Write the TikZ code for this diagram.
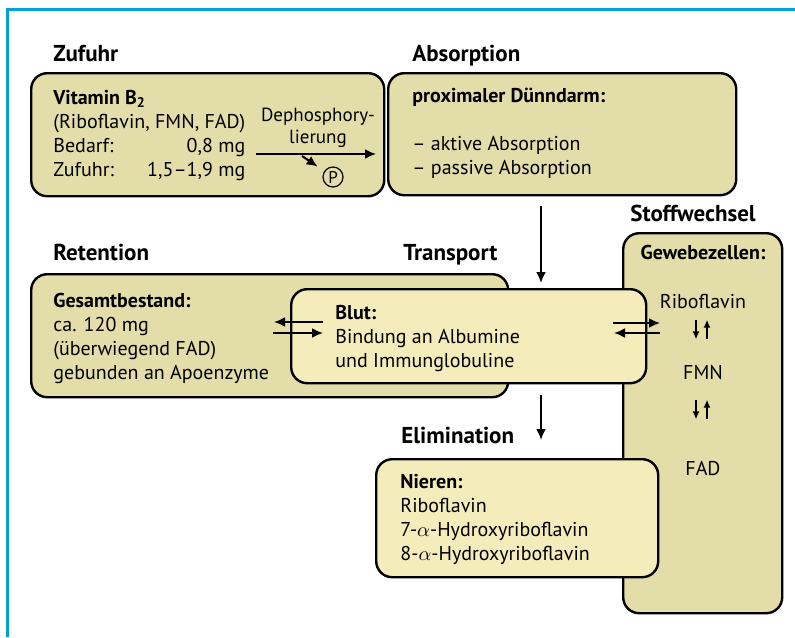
\documentclass[tikz,border=0pt]{standalone}
\usepackage{fontspec}
\setmainfont{PT Sans}
\usetikzlibrary{arrows.meta,positioning}
\definecolor{khaki}{RGB}{227,222,169}
\definecolor{cream}{RGB}{244,236,186}
\definecolor{framecol}{RGB}{0,160,220}
\tikzstyle{mybox} = [draw=black, line width=1.2pt, rectangle, rounded corners=8pt,
    inner sep=0pt, anchor=north west]
\tikzstyle{outerbox} = [mybox, fill=khaki]
\tikzstyle{innerbox} = [mybox, fill=cream]
\tikzstyle{heading} = [font=\bfseries\fontsize{11.5}{13}\selectfont, inner sep=0pt, anchor=base west]
\tikzstyle{boxtext} = [font=\fontsize{10}{12}\selectfont, inner sep=0pt, anchor=base west]
\tikzstyle{midtext} = [font=\fontsize{10}{12}\selectfont, inner sep=0pt, anchor=base]
\tikzstyle{flow} = [line width=1pt, -{Latex[length=5.5pt,width=5pt]}]
\tikzstyle{tinyflow} = [line width=0.8pt, -{Latex[length=4pt,width=3.5pt]}]

\begin{document}
\begin{tikzpicture}[x=0.5pt, y=-0.5pt]
\useasboundingbox (0,0) rectangle (795,637);
\draw[framecol, line width=1.5pt] (7,637) -- (7,9.5) -- (795,9.5);

% boxes, back to front
\node[outerbox, minimum width=176.5pt, minimum height=61.5pt] (zufuhr) at (30,72) {};
\node[outerbox, minimum width=174pt, minimum height=61pt] (absorb) at (387,72) {};
\node[outerbox, minimum width=79.5pt, minimum height=190pt] (stoff) at (622,232) {};
\node[outerbox, minimum width=238.5pt, minimum height=61.5pt] (retent) at (30,273) {};
\node[innerbox, minimum width=177.5pt, minimum height=47pt] (blut) at (290,288) {};
\node[innerbox, minimum width=141pt, minimum height=59pt] (nieren) at (375,458) {};

% headings
\node[heading] (t-zufuhr) at ([xshift=11.5pt, yshift=5.5pt]zufuhr.north west) {Zufuhr};
\node[heading] (t-absorb) at ([xshift=12.5pt, yshift=5.5pt]absorb.north west) {Absorption};
\node[heading] (t-stoff) at ([xshift=4pt, yshift=5.5pt]stoff.north west) {Stoffwechsel};
\node[heading] (t-retent) at ([xshift=11.5pt, yshift=6.5pt]retent.north west) {Retention};
\node[heading] (t-transp) at ([xshift=56.5pt, yshift=14pt]blut.north west) {Transport};
\node[heading] (t-elim) at ([xshift=13pt, yshift=7.5pt]nieren.north west) {Elimination};

% box contents
\node[boxtext] (vit) at (53,104) {\begin{tabular}[t]{@{}l@{}r@{}}
    \multicolumn{2}{@{}l@{}}{\textbf{Vitamin B\textsubscript{2}}}\\
    \multicolumn{2}{@{}l@{}}{(Riboflavin, FMN, FAD)}\\
    Bedarf: & 0,8 mg\\
    Zufuhr: & 1,5--1,9 mg
  \end{tabular}};
\node[midtext, font=\fontsize{9.5}{11}\selectfont] (dephos) at (318,121)
  {\begin{tabular}[t]{@{}c@{}}Dephosphory-\\lierung\end{tabular}};
\node[draw, circle, line width=0.6pt, minimum size=10pt, inner sep=0pt,
    font=\fontsize{8.5}{8.5}\selectfont] (phos) at (333,177) {P};
\node[boxtext] (prox) at (412,102) {\begin{tabular}[t]{@{}l@{}}
    \textbf{proximaler Dünndarm:}\\[12pt]
    -- aktive Absorption\\-- passive Absorption\end{tabular}};
\node[boxtext] (bestand) at (53,307) {\begin{tabular}[t]{@{}l@{}}
    \textbf{Gesamtbestand:}\\ca. 120 mg\\(überwiegend FAD)\\gebunden an Apoenzyme\end{tabular}};
\node[boxtext] (bind) at (335,319) {\begin{tabular}[t]{@{}l@{}}
    \textbf{Blut:}\\Bindung an Albumine\\und Immunglobuline\end{tabular}};
\node[boxtext] (niere) at (400,488) {\begin{tabular}[t]{@{}l@{}}
    \textbf{Nieren:}\\Riboflavin\\7-$\alpha$-Hydroxyriboflavin\\8-$\alpha$-Hydroxyriboflavin\end{tabular}};
\node[midtext, font=\bfseries\fontsize{10}{12}\selectfont] (gewebe) at (703,259) {Gewebezellen:};
\node[midtext] (ribo) at (703,308) {Riboflavin};
\node[midtext] (fmn) at (703,379) {FMN};
\node[midtext] (fad) at (703,475) {FAD};

% connectors
\coordinate (drop) at (541,0);
\coordinate (dp) at (256,154);
\coordinate (dq) at (302,156);
\draw[flow] (dp) -- ([xshift=-5.5pt]absorb.west |- dp);
\draw[flow, shorten >=4pt] (dq) -- (phos);
\draw[flow, shorten <=5pt, shorten >=2.5pt] (absorb.south -| drop) -- (blut.north -| drop);
\draw[flow, shorten <=5.5pt, shorten >=9pt] (blut.south -| drop) -- (nieren.north -| drop);

% exchange with Retention and Stoffwechsel
\coordinate (la) at (323,322);
\coordinate (lb) at (274,322);
\coordinate (lc) at (273,333);
\coordinate (ld) at (323,333);
\coordinate (ra) at (613,323);
\coordinate (rb) at (660,323);
\coordinate (rc) at (660,333);
\coordinate (rd) at (614,333);
\draw[flow] (la) -- (lb);
\draw[flow] (lc) -- (ld);
\draw[flow] (ra) -- (rb);
\draw[flow] (rc) -- (rd);

% Riboflavin <-> FMN <-> FAD
\draw[tinyflow, shorten <=5.5pt, shorten >=12.5pt] ([xshift=-3.5pt]ribo.south) -- ([xshift=-3.5pt]fmn.north);
\draw[tinyflow, shorten <=12.5pt, shorten >=5.5pt] ([xshift=2pt]fmn.north) -- ([xshift=2pt]ribo.south);
\draw[tinyflow, shorten <=10pt, shorten >=20.5pt] ([xshift=-3.5pt]fmn.south) -- ([xshift=-3.5pt]fad.north);
\draw[tinyflow, shorten <=20.5pt, shorten >=10pt] ([xshift=2pt]fad.north) -- ([xshift=2pt]fmn.south);
\end{tikzpicture}
\end{document}
